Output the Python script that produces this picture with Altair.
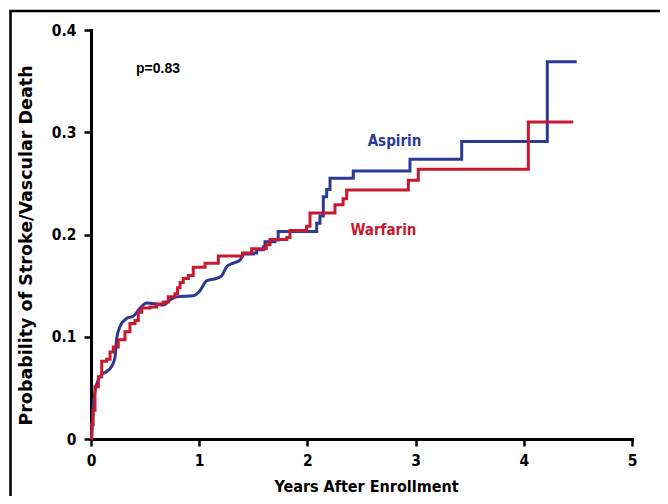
import altair as alt
import pandas as pd

# ---- data ----
series_names = ["Aspirin", "Warfarin"]
series_colors = ["#2b3a94", "#c8192e"]

# Aspirin: early part drawn smooth (many tiny steps), later part as steps
aspirin_smooth_x = [0, 0.006, 0.02, 0.053, 0.099, 0.145, 0.191, 0.222, 0.237, 0.268,
                    0.33, 0.39, 0.453, 0.515, 0.607, 0.668, 0.73, 0.792, 0.945, 1.007,
                    1.07, 1.16, 1.21, 1.254, 1.315, 1.377, 1.408]
aspirin_smooth_y = [0, 0.002, 0.032, 0.054, 0.063, 0.066, 0.071, 0.080, 0.098, 0.110,
                    0.118, 0.120, 0.128, 0.133, 0.132, 0.131, 0.136, 0.139, 0.140, 0.145,
                    0.155, 0.157, 0.160, 0.1685, 0.172, 0.175, 0.181]
aspirin_step_x = [1.408, 1.50, 1.531, 1.593, 1.608, 1.70, 1.73, 2.086, 2.116, 2.147,
                  2.178, 2.209, 2.424, 2.948, 3.426, 4.217, 4.489]
aspirin_step_y = [0.181, 0.182, 0.185, 0.188, 0.193, 0.1946, 0.203, 0.211, 0.218, 0.237,
                  0.244, 0.255, 0.262, 0.2735, 0.291, 0.369, 0.369]

warfarin_x = [0, 0.006, 0.02, 0.037, 0.068, 0.099, 0.145, 0.176, 0.206, 0.252, 0.314,
              0.36, 0.407, 0.437, 0.468, 0.545, 0.607, 0.668, 0.714, 0.776, 0.80, 0.823,
              0.853, 0.9, 0.945, 1.054, 1.177, 1.40, 1.485, 1.62, 1.654, 1.809, 1.839,
              1.993, 2.024, 2.255, 2.33, 2.363, 2.933, 3.025, 4.042, 4.457]
warfarin_y = [0, 0.014, 0.028, 0.051, 0.061, 0.076, 0.078, 0.085, 0.090, 0.097, 0.105,
              0.113, 0.116, 0.124, 0.128, 0.129, 0.132, 0.134, 0.139, 0.142, 0.148, 0.153,
              0.157, 0.160, 0.168, 0.172, 0.179, 0.182, 0.186, 0.190, 0.195, 0.197, 0.204,
              0.208, 0.221, 0.229, 0.235, 0.2435, 0.253, 0.2637, 0.310, 0.310]

label_x = [2.805, 2.703]
label_y = [0.2866, 0.1995]
pvalue_text = ["p=0.83"]
pvalue_x = [0.416]
pvalue_y = [0.358]

x_ticks = [0, 1, 2, 3, 4, 5]
y_ticks = [0, 0.1, 0.2, 0.3, 0.4]

NARROW = "DejaVu Sans Condensed"
ARIAL = "Liberation Sans"
WIDE = "DejaVu Sans"

# ---- tables ----
smooth_df = pd.DataFrame({"x": aspirin_smooth_x, "y": aspirin_smooth_y,
                          "series": "Aspirin", "i": range(len(aspirin_smooth_x))})
step_df = pd.concat([
    pd.DataFrame({"x": aspirin_step_x, "y": aspirin_step_y, "series": "Aspirin",
                  "i": range(len(aspirin_step_x))}),
    pd.DataFrame({"x": warfarin_x, "y": warfarin_y, "series": "Warfarin",
                  "i": range(len(warfarin_x))}),
])
labels_df = pd.DataFrame({"x": label_x, "y": label_y, "series": series_names})
p_df = pd.DataFrame({"x": pvalue_x, "y": pvalue_y, "t": pvalue_text})

x_enc = alt.X("x:Q", scale=alt.Scale(domain=[0, 5], nice=False, zero=False),
              axis=alt.Axis(values=x_ticks, format="d", title="Years After Enrollment",
                            titleX=275, titleY=39, titleFont=NARROW, titleFontSize=16,
                            titleBaseline="top", labelPadding=7, labelFlush=False))
y_enc = alt.Y("y:Q", scale=alt.Scale(domain=[0, 0.4], nice=False),
              axis=alt.Axis(values=y_ticks, format="~g",
                            title="Probability of Stroke/Vascular Death",
                            titleX=-56, titleY=215, titleFont=WIDE, titleFontSize=17.5,
                            labelPadding=8, labelFlush=False))
color_enc = alt.Color("series:N", scale=alt.Scale(domain=series_names, range=series_colors),
                      legend=None)

frame = alt.Chart(pd.DataFrame({"a": [0]})).mark_rect(
    filled=False, stroke="black", strokeWidth=2.5
).encode(x=alt.value(-80.5), x2=alt.value(700), y=alt.value(-19), y2=alt.value(700))

smooth = alt.Chart(smooth_df).mark_line(interpolate="monotone", strokeWidth=3).encode(
    x=x_enc, y=y_enc, color=color_enc, order="i:Q")
steps = alt.Chart(step_df).mark_line(interpolate="step-after", strokeWidth=3).encode(
    x=x_enc, y=y_enc, color=color_enc, detail="series:N", order="i:Q")
labels = alt.Chart(labels_df).mark_text(font=NARROW, fontWeight="bold", fontSize=15,
                                        align="center", baseline="alphabetic").encode(
    x=x_enc, y=y_enc, color=color_enc, text="series:N")
ptext = alt.Chart(p_df).mark_text(font=ARIAL, fontWeight="bold", fontSize=14,
                                  align="left", baseline="alphabetic", color="black").encode(
    x=x_enc, y=y_enc, text="t:N")

chart = alt.layer(frame, smooth, steps, labels, ptext).properties(
    width=541, height=409,
    autosize=alt.AutoSizeParams(type="none"),
    padding={"left": 83, "top": 22, "right": 28, "bottom": 57},
).configure_view(stroke=None).configure_axis(
    grid=False, domainColor="black", domainWidth=3, tickColor="black", tickWidth=2.5,
    tickSize=7, labelFont=NARROW, labelFontWeight="bold", labelFontSize=15.5,
    labelColor="black", titleColor="black", titleFontWeight="bold",
    domainCap="square"
)

chart.save("out.html", embed_options={"renderer": "svg", "actions": False})
